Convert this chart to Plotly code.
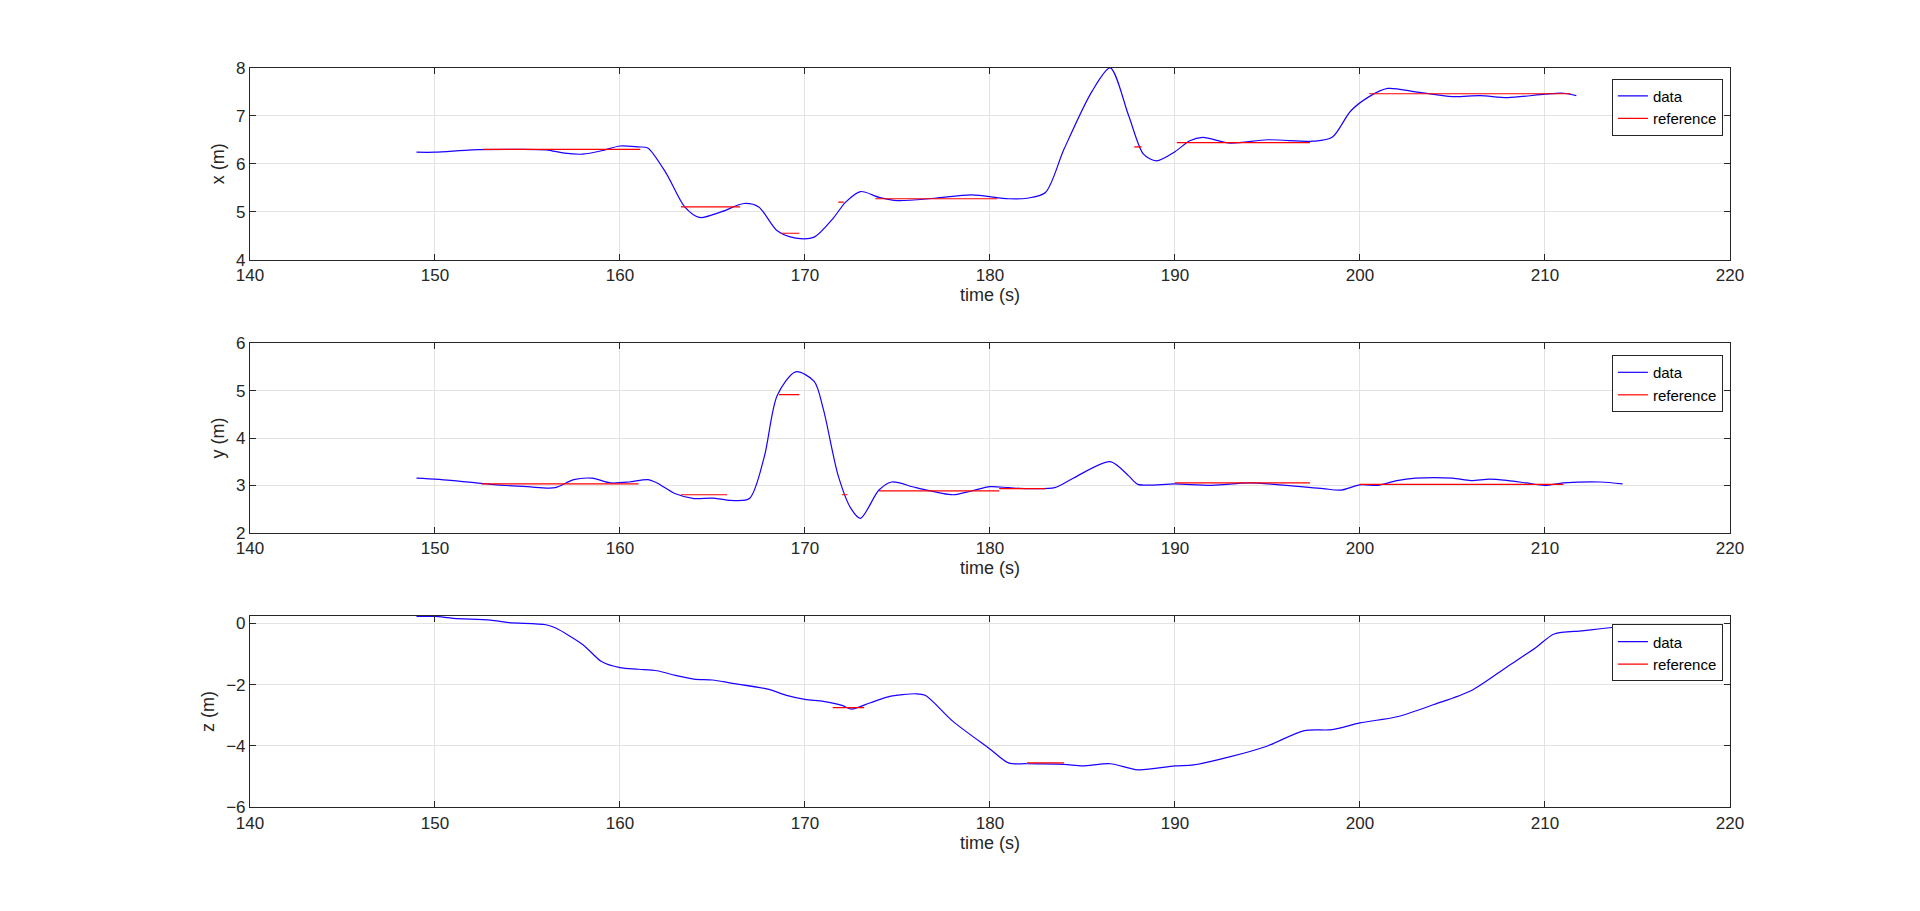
import plotly.graph_objects as go

# ---- data ----
x_t = [149,150,152,154,156,157,158,159,160,161,161.5,162.5,163.5,164.3,165.5,166.7,167.5,168.5,169.5,170.5,171.5,172.2,173,174,175,177,179,181,182,183,184,185.5,186.5,187.5,188.3,189,190,190.8,191.5,193,195,197.5,198.5,199.5,200.5,201.5,203,205,206.5,208,210,211,211.7]
x_v = [6.24,6.24,6.29,6.3,6.29,6.22,6.2,6.27,6.37,6.35,6.33,5.8,5.1,4.88,5.0,5.17,5.1,4.6,4.45,4.47,4.85,5.2,5.42,5.3,5.23,5.28,5.35,5.27,5.28,5.4,6.3,7.5,8.0,7.0,6.2,6.06,6.25,6.48,6.55,6.43,6.5,6.47,6.55,7.1,7.4,7.57,7.5,7.4,7.42,7.38,7.45,7.47,7.42]
x_ref_t = [152.6,161.1,None,163.3,166.5,None,168.7,169.7,None,171.8,172.1,None,173.8,180.4,None,187.8,188.2,None,190.1,197.3,None,200.5,211.4]
x_ref_v = [6.3,6.3,None,5.1,5.1,None,4.55,4.55,None,5.2,5.2,None,5.27,5.27,None,6.35,6.35,None,6.44,6.44,None,7.46,7.46]

y_t = [149,151,153,155,156.5,157.5,158.5,159.5,160.5,161.5,162,163,164,165,166,167,167.8,168.5,169.5,170.5,171,171.8,172.5,173,174,174.7,176,178,179,180,181,182,183.5,184.5,186.5,187.5,188,190,192,194,196,198,199,200,201,202,203,205,206,207,208,209,210,211,213,214.2]
y_v = [3.15,3.1,3.02,2.97,2.95,3.12,3.15,3.05,3.07,3.12,3.05,2.82,2.72,2.73,2.68,2.72,3.6,4.9,5.4,5.2,4.6,3.2,2.5,2.3,2.9,3.07,2.95,2.8,2.88,2.97,2.95,2.93,2.95,3.15,3.5,3.2,3.02,3.03,3.0,3.05,3.0,2.93,2.9,3.01,3.0,3.1,3.15,3.15,3.1,3.13,3.1,3.05,3.0,3.05,3.07,3.03]
y_ref_t = [152.5,161.0,None,163.3,165.8,None,168.6,169.7,None,172.0,172.3,None,174.0,180.5,None,180.5,183.0,None,190.0,197.3,None,200.0,211.0]
y_ref_v = [3.03,3.03,None,2.8,2.8,None,4.92,4.92,None,2.8,2.8,None,2.88,2.88,None,2.93,2.93,None,3.05,3.05,None,3.02,3.02]

z_t = [149,150,151,153,154,156,156.5,158,159,160,161,162,163,164,165,166,168,169,170,171,172,172.5,173.5,174.5,176,176.5,178,180,181,182,184,185,186.5,188,190,191,193,195,197,198.5,200,202,204,206,208,209.5,210.5,212,213,214.2]
z_v = [0.22,0.22,0.16,0.1,0.02,-0.05,-0.15,-0.7,-1.25,-1.45,-1.5,-1.55,-1.7,-1.82,-1.85,-1.95,-2.15,-2.35,-2.48,-2.55,-2.68,-2.8,-2.6,-2.4,-2.3,-2.35,-3.2,-4.1,-4.55,-4.58,-4.6,-4.65,-4.58,-4.78,-4.65,-4.62,-4.35,-4.0,-3.5,-3.47,-3.25,-3.05,-2.65,-2.2,-1.4,-0.8,-0.35,-0.25,-0.18,-0.1]
z_ref_t = [171.5,173.2,None,182.0,184.0]
z_ref_v = [-2.75,-2.75,None,-4.55,-4.55]

panels = [
    (x_t, x_v, x_ref_t, x_ref_v, "x (m)", [4, 8], 1),
    (y_t, y_v, y_ref_t, y_ref_v, "y (m)", [2, 6], 1),
    (z_t, z_v, z_ref_t, z_ref_v, "z (m)", [-6, 0.25], 2),
]
domains = [[0.728, 0.943], [0.422, 0.634], [0.114, 0.329]]
legend_y = [0.931, 0.621, 0.319]

fig = go.Figure()
for i, (t, v, rt, rv, ylab, yr, dt) in enumerate(panels):
    n = "" if i == 0 else str(i + 1)
    lg = "legend" + n
    fig.add_trace(go.Scatter(x=t, y=v, mode="lines", name="data", line=dict(color="#1a00ff", width=1.2, shape="spline", smoothing=0.8),
                             xaxis="x" + n, yaxis="y" + n, legend=lg))
    fig.add_trace(go.Scatter(x=rt, y=rv, mode="lines", name="reference", line=dict(color="#ff0000", width=1.2),
                             xaxis="x" + n, yaxis="y" + n, legend=lg, connectgaps=False))
    ax = dict(range=[140, 220], dtick=10, domain=[0.1205, 0.9027], anchor="y" + n,
              showline=True, linecolor="#262626", linewidth=1, mirror="ticks", ticks="inside", ticklen=6,
              tickcolor="#262626", showgrid=True, gridcolor="#e3e3e3", zeroline=False,
              title=dict(text="time (s)", font=dict(size=18, color="#262626"), standoff=4),
              tickfont=dict(size=17, color="#262626"))
    ay = dict(range=yr, dtick=dt, domain=domains[i], anchor="x" + n,
              showline=True, linecolor="#262626", linewidth=1, mirror="ticks", ticks="inside", ticklen=6,
              tickcolor="#262626", showgrid=True, gridcolor="#e3e3e3", zeroline=False,
              title=dict(text=ylab, font=dict(size=18, color="#262626"), standoff=6),
              tickfont=dict(size=17, color="#262626"))
    fig.layout["xaxis" + n] = ax
    fig.layout["yaxis" + n] = ay
    fig.layout[lg] = dict(x=0.899, y=legend_y[i], xanchor="right", yanchor="top",
                          bordercolor="#262626", borderwidth=1, bgcolor="white",
                          font=dict(size=15, color="#000000"), tracegroupgap=0)

fig.update_layout(width=1920, height=911, margin=dict(l=0, r=0, t=0, b=0),
                  paper_bgcolor="white", plot_bgcolor="white",
                  font=dict(family="Liberation Sans, Arial, sans-serif"))
fig.write_html("out.html")
